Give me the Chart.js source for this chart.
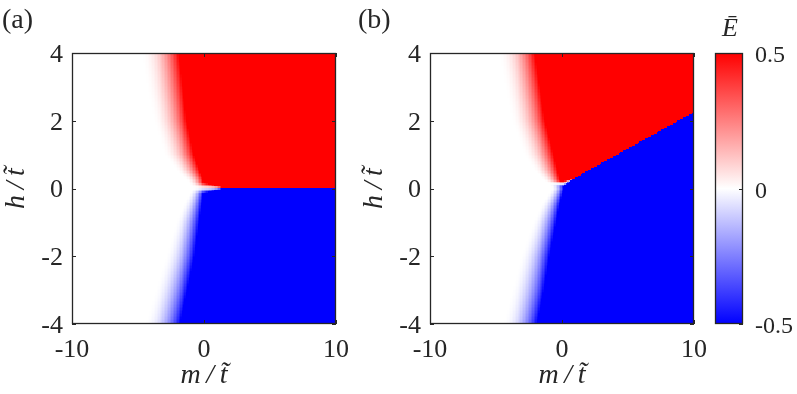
<!DOCTYPE html>
<html>
<head>
<meta charset="utf-8">
<script src="https://cdn.jsdelivr.net/npm/chart.js@4.4.1/dist/chart.umd.min.js"></script>
<style>
    body { margin: 0; background: #fff; }
    #wrap { position: relative; width: 797px; height: 394px; overflow: hidden; }
    .box { position: absolute; top: 0; height: 394px; }
    .lbl { position: absolute; font-family: "Liberation Serif", "Times New Roman", serif; color: #262626; line-height: 1; white-space: nowrap; }
</style>
</head>
<body>
<div id="wrap">
    <div class="box" style="left:0;width:360px"><canvas id="chartA"></canvas></div>
    <div class="box" style="left:358px;width:360px"><canvas id="chartB"></canvas></div>
    <div class="box" style="left:700px;width:97px"><canvas id="chartBar"></canvas></div>
    <div class="lbl" style="left:2px;top:5px;font-size:28px">(a)</div>
    <div class="lbl" style="left:358px;top:5px;font-size:28px">(b)</div>
    <div class="lbl" style="left:713px;top:15px;width:34px;text-align:center;font-size:26px;font-style:italic">Ē</div>
</div>
<script>
    /*
    ----------------------------------
         Data
    ----------------------------------
    */

    // axis ranges and ticks
    var mRange = [-10, 10];
    var hRange = [-4, 4];
    var mTicks = [-10, 0, 10];
    var hTicks = [-4, -2, 0, 2, 4];
    var barTicks = [-0.5, 0, 0.5];

    // colour map of E (blue - white - red)
    var cmapValues = [-0.5, 0, 0.5];
    var cmapColors = [[0, 0, 255], [255, 255, 255], [255, 0, 0]];

    // rows where the edge of the coloured region was read
    var hKnots = [-4, -3, -2, -1, -0.5, -0.2, 0, 0.25, 0.5, 1, 2, 3, 4];

    // panel (a): m where full colour starts, width of the white fade to the left
    var edgeA = [-1.8, -1.22, -0.7, -0.35, -0.17, -0.06, 0, -0.06, -0.32, -0.76, -1.29, -1.6, -1.9];
    var fadeA = [2.7, 2.5, 2.2, 1.8, 1.4, 1.1, 0.9, 1.3, 1.8, 2.3, 2.6, 2.8, 2.9];
    // line between red (above) and blue (below)
    var splitMA = [-10, 10];
    var splitHA = [0, 0];
    // thin white seam along that line near the origin
    var seamMA = [0, 0.5, 1, 1.6];
    var seamHA = [0.15, 0.1, 0.05, 0];

    // panel (b)
    var edgeB = [-1.88, -1.33, -0.92, -0.42, -0.18, 0.02, 0.15, -0.16, -0.32, -0.63, -1.27, -1.68, -2.05];
    var fadeB = [2.6, 2.5, 2.2, 1.8, 1.4, 1.1, 0.9, 1.3, 1.8, 2.3, 2.6, 2.7, 2.8];
    var splitMB = [-10, 0.2, 10];
    var splitHB = [0.12, 0.12, 2.23];
    var seamMB = [0.2, 0.6, 1, 1.6];
    var seamHB = [0.08, 0.03, 0, 0];

    var gridCols = 180;
    var gridRows = 180;

    var textColor = '#262626';
    var serif = '"Liberation Serif", "Times New Roman", Times, serif';
    var tickFont = { family: serif, size: 26 };
    var titleFont = { family: serif, size: 28, style: 'italic' };

    /*
    ----------------------------------
         Build the cells
    ----------------------------------
    */

    const interp = (xs, ys, x) => {
        if (x <= xs[0]) return ys[0];
        for (var i = 1; i < xs.length; i++) {
            if (x <= xs[i]) {
                var f = (x - xs[i - 1]) / (xs[i] - xs[i - 1]);
                return ys[i - 1] + f * (ys[i] - ys[i - 1]);
            }
        }
        return ys[ys.length - 1];
    };

    const colorFor = (v) => {
        var r = interp(cmapValues, cmapColors.map(c => c[0]), v);
        var g = interp(cmapValues, cmapColors.map(c => c[1]), v);
        var b = interp(cmapValues, cmapColors.map(c => c[2]), v);
        return 'rgb(' + Math.round(r) + ',' + Math.round(g) + ',' + Math.round(b) + ')';
    };

    const buildCells = (edge, fade, splitM, splitH, seamM, seamH) => {
        var cells = [];
        var dm = (mRange[1] - mRange[0]) / gridCols;
        var dh = (hRange[1] - hRange[0]) / gridRows;

        for (var i = 0; i < gridRows; i++) {
            var h = hRange[1] - (i + 0.5) * dh;
            var e = interp(hKnots, edge, h);
            var w = interp(hKnots, fade, h);

            for (var j = 0; j < gridCols; j++) {
                var m = mRange[0] + (j + 0.5) * dm;
                var split = interp(splitM, splitH, m);
                var sign = h >= split ? 1 : -1;
                var d = e - m;
                var s = d <= 0 ? 1 : Math.max(0, 1 - d / w);
                var t = Math.pow(s, 2.2);
                var seam = interp(seamM, seamH, m);
                if (seam > 0) {
                    t *= Math.min(1, Math.abs(h - split) / seam);
                }
                cells.push({ x: m, y: h, v: 0.5 * sign * t });
            }
        }
        return { cells: cells, dx: dm, dy: dh };
    };

    /*
    ----------------------------------
         Plugins
    ----------------------------------
    */

    const heatmap = {
        id: 'heatmap',
        beforeDatasetsDraw(chart) {
            const ctx = chart.ctx;
            const xs = chart.scales.x;
            const ys = chart.scales.y;
            const area = chart.chartArea;

            ctx.save();
            ctx.beginPath();
            ctx.rect(area.left, area.top, area.right - area.left, area.bottom - area.top);
            ctx.clip();

            chart.data.datasets.forEach(ds => {
                if (!ds.cellSize) return;
                ds.data.forEach(c => {
                    var x0 = Math.floor(xs.getPixelForValue(c.x - ds.cellSize.dx / 2));
                    var x1 = Math.ceil(xs.getPixelForValue(c.x + ds.cellSize.dx / 2));
                    var y0 = Math.floor(ys.getPixelForValue(c.y + ds.cellSize.dy / 2));
                    var y1 = Math.ceil(ys.getPixelForValue(c.y - ds.cellSize.dy / 2));
                    ctx.fillStyle = colorFor(c.v);
                    ctx.fillRect(x0, y0, x1 - x0, y1 - y0);
                });
            });
            ctx.restore();
        }
    };

    // box round the axes and small inward ticks on every side
    const boxTicks = {
        id: 'boxTicks',
        afterDatasetsDraw(chart, args, options) {
            const ctx = chart.ctx;
            const a = chart.chartArea;
            const len = 4;

            ctx.save();
            ctx.strokeStyle = textColor;
            ctx.lineWidth = 1.3;
            ctx.strokeRect(Math.round(a.left) + 0.5, Math.round(a.top) + 0.5,
                Math.round(a.right - a.left) - 1, Math.round(a.bottom - a.top) - 1);

            ctx.lineWidth = 1;
            ctx.beginPath();
            if (options.x) {
                chart.scales.x.ticks.forEach(t => {
                    var px = Math.round(chart.scales.x.getPixelForValue(t.value)) + 0.5;
                    ctx.moveTo(px, a.bottom); ctx.lineTo(px, a.bottom - len);
                    ctx.moveTo(px, a.top); ctx.lineTo(px, a.top + len);
                });
            }
            chart.scales.y.ticks.forEach(t => {
                var py = Math.round(chart.scales.y.getPixelForValue(t.value)) + 0.5;
                if (options.left) { ctx.moveTo(a.left, py); ctx.lineTo(a.left + len, py); }
                ctx.moveTo(a.right, py); ctx.lineTo(a.right - len, py);
            });
            ctx.stroke();
            ctx.restore();
        }
    };

    /*
    ----------------------------------
         Heatmap panels
    ----------------------------------
    */

    const initPanel = (id, grid) => {
        new Chart(document.getElementById(id), {
            type: 'scatter',
            data: {
                datasets: [{
                    label: 'E',
                    data: grid.cells,
                    cellSize: { dx: grid.dx, dy: grid.dy },
                    pointRadius: 0,
                    pointHoverRadius: 0
                }]
            },
            options: {
                responsive: true,
                maintainAspectRatio: false,
                animation: false,
                events: [],
                layout: {
                    padding: { top: 53, right: 17, left: 0, bottom: 0 }
                },
                scales: {
                    x: {
                        type: 'linear',
                        min: mRange[0],
                        max: mRange[1],
                        afterBuildTicks: (scale) => {
                            scale.ticks = mTicks.map(v => ({ value: v }));
                        },
                        afterFit: (scale) => {
                            scale.height = 70;
                        },
                        grid: { display: false, drawTicks: false },
                        border: { display: false },
                        ticks: {
                            color: textColor,
                            font: tickFont,
                            padding: 11,
                            maxRotation: 0,
                            autoSkip: false
                        },
                        title: {
                            display: true,
                            text: 'm\u2009/\u2009t\u0303',
                            color: textColor,
                            font: titleFont,
                            padding: { top: 0, bottom: 2 }
                        }
                    },
                    y: {
                        type: 'linear',
                        min: hRange[0],
                        max: hRange[1],
                        afterBuildTicks: (scale) => {
                            scale.ticks = hTicks.map(v => ({ value: v }));
                        },
                        afterFit: (scale) => {
                            scale.width = 72;
                        },
                        grid: { display: false, drawTicks: false },
                        border: { display: false },
                        ticks: {
                            color: textColor,
                            font: tickFont,
                            padding: 9,
                            labelOffset: 2,
                            autoSkip: false
                        },
                        title: {
                            display: true,
                            text: 'h\u2009/\u2009t\u0303',
                            color: textColor,
                            font: titleFont,
                            padding: { top: 0, bottom: 0 }
                        }
                    }
                },
                plugins: {
                    legend: { display: false },
                    tooltip: { enabled: false },
                    boxTicks: { x: true, left: true }
                }
            },
            plugins: [heatmap, boxTicks]
        });
    };

    initPanel('chartA', buildCells(edgeA, fadeA, splitMA, splitHA, seamMA, seamHA));
    initPanel('chartB', buildCells(edgeB, fadeB, splitMB, splitHB, seamMB, seamHB));

    /*
    ----------------------------------
         Colour bar
    ----------------------------------
    */

    new Chart(document.getElementById('chartBar'), {
        type: 'bar',
        data: {
            labels: [''],
            datasets: [{
                label: 'E',
                data: [[cmapValues[0], cmapValues[cmapValues.length - 1]]],
                barPercentage: 1,
                categoryPercentage: 1,
                borderWidth: 0,
                backgroundColor: (context) => {
                    const chart = context.chart;
                    if (!chart.chartArea) return null;
                    const y = chart.scales.y;
                    const grad = chart.ctx.createLinearGradient(0, y.getPixelForValue(cmapValues[0]), 0, y.getPixelForValue(cmapValues[cmapValues.length - 1]));
                    cmapValues.forEach((v, i) => {
                        grad.addColorStop((v - cmapValues[0]) / (cmapValues[cmapValues.length - 1] - cmapValues[0]),
                            'rgb(' + cmapColors[i].join(',') + ')');
                    });
                    return grad;
                }
            }]
        },
        options: {
            responsive: true,
            maintainAspectRatio: false,
            animation: false,
            events: [],
            layout: {
                padding: { top: 53, right: 0, left: 15, bottom: 70 }
            },
            scales: {
                x: { display: false },
                y: {
                    position: 'right',
                    min: barTicks[0],
                    max: barTicks[barTicks.length - 1],
                    afterBuildTicks: (scale) => {
                        scale.ticks = barTicks.map(v => ({ value: v }));
                    },
                    afterFit: (scale) => {
                        scale.width = 54;
                    },
                    grid: { display: false, drawTicks: false },
                    border: { display: false },
                    ticks: {
                        color: textColor,
                        font: { family: serif, size: 24 },
                        padding: 12,
                        labelOffset: 3,
                        autoSkip: false
                    }
                }
            },
            plugins: {
                legend: { display: false },
                tooltip: { enabled: false },
                boxTicks: { x: false, left: false }
            }
        },
        plugins: [boxTicks]
    });
</script>
</body>
</html>
